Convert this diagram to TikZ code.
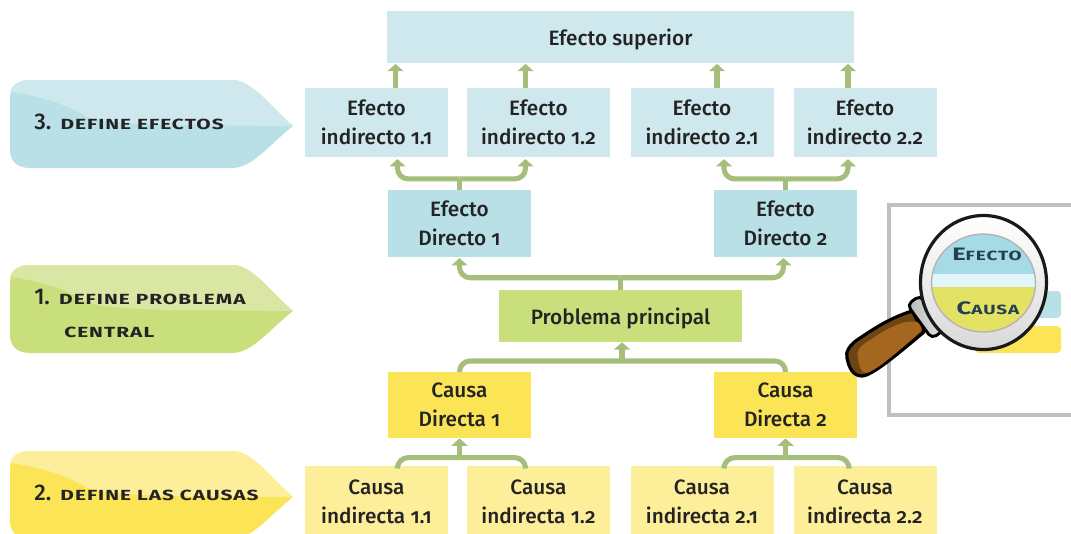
\documentclass[tikz,border=0pt]{standalone}
\usepackage{fontspec}
\setmainfont[Numbers=OldStyle,UprightFont=* Medium,BoldFont=* Bold]{Fira Sans}
\newfontfamily\etiqfont[Numbers=Lining,UprightFont=* Bold,FakeStretch=1.42,LetterSpace=7]{Fira Sans}
\newfontfamily\numfont[Numbers=Lining,UprightFont=* Medium]{Fira Sans}
\usetikzlibrary{arrows.meta,calc}
\definecolor{azulclaro}{HTML}{CFE8EE}
\definecolor{azulbase}{HTML}{B9DFE7}
\definecolor{verdeclaro}{HTML}{DAE7A4}
\definecolor{verdebase}{HTML}{C9DF7C}
\definecolor{amarilloclaro}{HTML}{FDEE9A}
\definecolor{amarillobase}{HTML}{FBE556}
\definecolor{flechaverde}{HTML}{A6BE7C}
\definecolor{textoc}{HTML}{232323}
\definecolor{marcogris}{HTML}{BEBFC3}
\definecolor{mangoc}{HTML}{A5661F}
\definecolor{mangoo}{HTML}{6E4412}
\definecolor{lupatexto}{HTML}{24404F}
\definecolor{lupaazul}{HTML}{A5DBE6}
\definecolor{lupabanda}{HTML}{E2F5FA}
\definecolor{lupaamarillo}{HTML}{E3E264}
\tikzset{
  caja/.style={align=center, inner sep=0pt, text=textoc, font=\fontsize{15.6}{22}\selectfont},
  chica/.style={caja, minimum width=107.25pt, minimum height=51.5pt},
  larga/.style={caja, text depth=0pt, minimum height=39pt},
  rama/.style={draw=flechaverde, line width=3.8pt, rounded corners=8pt},
  flecha/.style={rama, -{Triangle[width=12pt,length=5.5pt]}},
  etiqueta/.style={inner sep=0pt, anchor=west, text=textoc, font=\etiqfont\fontsize{11}{14}\selectfont}
}
\newcommand{\numetiq}[1]{{\numfont\fontsize{17}{14}\selectfont #1}}
\begin{document}
\begin{tikzpicture}[x=0.75pt,y=0.75pt]
  \useasboundingbox (0,0) rectangle (1071,-533);
  \clip (0,0) rectangle (1071,-533);
  % etiquetas de la izquierda
  \foreach \y/\base/\claro in {80/azulbase/azulclaro,265/verdebase/verdeclaro,451/amarillobase/amarilloclaro} {
    \fill[\base] (30,-\y) -- (232,-\y) .. controls (252,-\y) and (268,-\y-24) .. (293,-\y-46)
      .. controls (268,-\y-66) and (252,-\y-88) .. (232,-\y-88) -- (30,-\y-88)
      .. controls (16,-\y-88) and (10,-\y-80) .. (10,-\y-70) -- (10,-\y-18)
      .. controls (10,-\y-8) and (16,-\y) .. (30,-\y) -- cycle;
    \fill[\claro] (30,-\y) -- (232,-\y) .. controls (252,-\y) and (268,-\y-24) .. (293,-\y-46)
      -- (167,-\y-45) .. controls (125,-\y-43) and (105,-\y-43) .. (87,-\y-37)
      .. controls (65,-\y-23) and (35,-\y-15) .. (10,-\y-12)
      .. controls (12,-\y-5) and (18,-\y) .. (30,-\y) -- cycle;
  }
  \node[etiqueta] (paso3) at (34,-122) {\numetiq{3.}\hspace{1pt} DEFINE EFECTOS};
  \node[etiqueta] (paso1) at (34,-297) {\numetiq{1.}\hspace{1pt} DEFINE PROBLEMA};
  \node[etiqueta] (central) at (64,-332) {CENTRAL};
  \node[etiqueta] (paso2) at (34,-493) {\numetiq{2.}\hspace{1pt} DEFINE LAS CAUSAS};
  % cajas
  \node[larga, fill=azulclaro, minimum width=350.25pt] (superior) at (620.5,-37) {Efecto superior};
  \foreach \n/\x/\t in {11/376.5/1.1,12/538.5/1.2,21/702/2.1,22/865/2.2} {
    \node[chica, fill=azulclaro] (e\n) at (\x,-122.5) {Efecto\\indirecto \t};
    \node[chica, fill=amarilloclaro, minimum height=53.25pt] (c\n) at (\x,-501.5) {Causa\\indirecta \t};
  }
  \foreach \n/\x in {1/459.5,2/785.5} {
    \node[chica, fill=azulbase, minimum height=50pt] (ed\n) at (\x,-223.5) {Efecto\\Directo \n};
    \node[chica, fill=amarillobase, minimum height=50pt] (cd\n) at (\x,-405) {Causa\\Directa \n};
  }
  \node[larga, fill=verdebase, minimum width=182.25pt] (problema) at (620.5,-316) {Problema principal};
  % flechas
  \foreach \n/\dx in {11/19,12/-13,21/15,22/-17} {
    \draw[flecha] ($(e\n.north)+(\dx,0)$) -- ($(e\n.north)+(\dx,24)$);
  }
  \foreach \ed/\e/\dx in {1/11/21,1/12/-13,2/21/22,2/22/-17} {
    \draw[rama] (ed\ed.north) -- ++(0,11);
    \draw[flecha] ($(ed\ed.north)+(0,11)$) -| ($(e\e.south)+(\dx,-2)$);
  }
  \draw[rama] (problema.north) -- ++(0,12);
  \draw[flecha] ($(problema.north)+(0,12)$) -| ($(ed1.south)+(0,-1)$);
  \draw[flecha] ($(problema.north)+(0,12)$) -| ($(ed2.south)+(-2,-1)$);
  \coordinate (cruce) at (622,-361);
  \draw[rama] (cd1.north) |- (cruce);
  \draw[rama] (cd2.north) |- (cruce);
  \draw[flecha] (cruce) -- (cruce |- problema.south);
  \foreach \cd/\c/\dx in {1/11/21,1/12/-13,2/21/22,2/22/-16} {
    \draw[rama] (cd\cd.south) ++(0,-19) -| ($(c\c.north)+(\dx,0)$);
    \draw[flecha] ($(cd\cd.south)+(0,-19)$) -- (cd\cd.south);
  }
  % lupa
  \draw[marcogris, line width=3pt] (889,-205) rectangle (1090,-415);
  \fill[azulbase, rounded corners=3pt] (990,-291) rectangle (1061,-318);
  \fill[amarillobase, rounded corners=3pt] (975,-326) rectangle (1061,-353);
  \filldraw[fill=mangoo, draw=black, line width=2.4pt, line join=round]
    (912,-311) .. controls (890,-318) and (875,-328) .. (860,-338)
    .. controls (850,-344) and (845,-352) .. (847,-358)
    .. controls (849,-368) and (853,-376) .. (862,-376)
    .. controls (872,-376) and (900,-352) .. (924,-332) -- cycle;
  \fill[mangoc] (920,-323) .. controls (905,-317) and (885,-330) .. (867,-342)
    .. controls (858,-347) and (856,-354) .. (858,-358)
    .. controls (859,-366) and (861,-373) .. (866,-373)
    .. controls (875,-372) and (900,-350) .. (922,-330) -- cycle;
  \begin{scope}[shift={(926,-317)},rotate=-54]
    \filldraw[draw=black, line width=2.2pt, rounded corners=4pt, left color=gray!55, right color=gray!20, shading angle=90] (-21,-8) rectangle (21,8);
  \end{scope}
  \filldraw[draw=black!90, line width=2.4pt, top color=white, bottom color=gray!30] (983.5,-282.5) ellipse (63 and 67);
  \begin{scope}
    \clip (983.5,-283) ellipse (52 and 49);
    \fill[lupabanda] (925,-225) rectangle (1040,-340);
    \fill[lupaazul] (925,-225) rectangle (1040,-274);
    \fill[lupaamarillo] (925,-287) rectangle (1040,-340);
    \node[inner sep=0pt, text=lupatexto, font=\etiqfont\fontsize{10}{14}\selectfont] (lupaefecto) at (987,-254) {{\fontsize{13.5}{14}\selectfont E}FECTO};
    \node[inner sep=0pt, text=lupatexto, font=\etiqfont\fontsize{10}{14}\selectfont] (lupacausa) at (988,-308) {{\fontsize{13.5}{14}\selectfont C}AUSA};
  \end{scope}
  \draw[gray!60, line width=1pt] (983.5,-283) ellipse (52 and 49);
\end{tikzpicture}
\end{document}
